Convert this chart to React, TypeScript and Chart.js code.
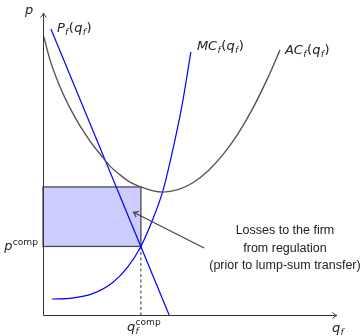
import { useEffect, useRef } from "react";
import { Chart, registerables } from "chart.js";

Chart.register(...registerables);

// Inverse demand P_f(q_f)
const demandQ = [0.27, 4.29];
const demandP = [9.47, 0];

// Marginal cost MC_f(q_f)
const mcQ = [0.31, 0.99, 1.67, 2.35, 2.86, 3.33, 3.71, 4.08, 4.39, 4.73, 5.03];
const mcP = [0.53, 0.56, 0.7, 1.06, 1.56, 2.27, 3.11, 4.12, 5.36, 6.95, 8.71];

// Average cost AC_f(q_f)
const acQ = [0.03, 0.24, 0.58, 0.92, 1.26, 1.6, 1.94, 2.28, 2.62, 2.96, 3.33, 3.71, 4.08, 4.59, 5.1, 5.61, 6.12, 6.63, 7.14, 7.65, 8.06];
const acP = [9.21, 8.44, 7.55, 6.85, 6.26, 5.76, 5.33, 4.93, 4.64, 4.4, 4.24, 4.12, 4.07, 4.15, 4.38, 4.77, 5.31, 6.0, 6.85, 7.86, 8.77];

// Regulated outcome: price = marginal cost on the demand curve
const qComp = 3.33;
const pComp = 2.27;
const acAtComp = 4.24;

// Annotation: arrow from the note into the loss rectangle
const noteArrowFrom = [5.48, 2.22];
const noteArrowTo = [3.06, 3.41];
const noteAnchor = [8.23, 2.78];
const noteLines = ["Losses to the firm", "from regulation", "(prior to lump-sum transfer)"];

const BLUE = "#0000ff";
const GREY = "#555555";
const AXIS = "#333333";
const TEXT = "#222222";
const MATH_FONT = '"DejaVu Sans"';
const NOTE_FONT = '"Liberation Sans", Arial, sans-serif';

type Seg = { t: string; k?: "sub" | "sup"; up?: boolean; stack?: boolean };

function drawMath(
  ctx: CanvasRenderingContext2D,
  x: number,
  y: number,
  segs: Seg[],
  size: number,
  align: "left" | "right" | "center" = "left"
) {
  const fontFor = (s: Seg) =>
    `${s.up ? "" : "italic "}${s.k ? size * 0.7 : size}px ${MATH_FONT}`;
  const widths = segs.map((s) => {
    ctx.font = fontFor(s);
    return ctx.measureText(s.t).width;
  });
  // total advance, where stacked segments share the start of the previous one
  let total = 0;
  let prevStart = 0;
  let cursor = 0;
  segs.forEach((s, i) => {
    const start = s.stack ? prevStart : cursor;
    prevStart = start;
    cursor = Math.max(cursor, start + widths[i] + (s.k ? 0.5 : 0.3));
    total = Math.max(total, cursor);
  });
  let x0 = x;
  if (align === "right") x0 = x - total;
  if (align === "center") x0 = x - total / 2;
  ctx.save();
  ctx.fillStyle = TEXT;
  ctx.textBaseline = "alphabetic";
  ctx.textAlign = "left";
  prevStart = 0;
  cursor = 0;
  segs.forEach((s, i) => {
    const start = s.stack ? prevStart : cursor;
    prevStart = start;
    ctx.font = fontFor(s);
    const dy = s.k === "sub" ? size * 0.25 : s.k === "sup" ? -size * 0.42 : 0;
    ctx.fillText(s.t, x0 + start, y + dy);
    cursor = Math.max(cursor, start + widths[i] + (s.k ? 0.5 : 0.3));
  });
  ctx.restore();
}

function arrowHead(
  ctx: CanvasRenderingContext2D,
  fx: number,
  fy: number,
  tx: number,
  ty: number,
  len = 4.5,
  spread = 3
) {
  const a = Math.atan2(ty - fy, tx - fx);
  const ux = Math.cos(a);
  const uy = Math.sin(a);
  ctx.beginPath();
  ctx.moveTo(tx - ux * len - uy * spread, ty - uy * len + ux * spread);
  ctx.quadraticCurveTo(tx - ux * len * 0.3, ty - uy * len * 0.3, tx, ty);
  ctx.quadraticCurveTo(
    tx - ux * len * 0.3,
    ty - uy * len * 0.3,
    tx - ux * len + uy * spread,
    ty - uy * len - ux * spread
  );
  ctx.stroke();
}

const economicsPlugin = {
  id: "economicsDecor",
  beforeDatasetsDraw(chart: any) {
    const { ctx, scales } = chart;
    const xs = scales.x;
    const ys = scales.y;
    const x0 = xs.getPixelForValue(0);
    const x1 = xs.getPixelForValue(qComp);
    const yTop = ys.getPixelForValue(acAtComp);
    const yBot = ys.getPixelForValue(pComp);
    ctx.save();
    ctx.fillStyle = "#ccccff";
    ctx.fillRect(x0, yTop, x1 - x0, yBot - yTop);
    ctx.strokeStyle = "#4a4a4a";
    ctx.lineWidth = 1.3;
    ctx.strokeRect(x0, yTop, x1 - x0, yBot - yTop);

    // dashed drop line at the regulated quantity
    ctx.strokeStyle = AXIS;
    ctx.lineWidth = 1;
    ctx.setLineDash([3, 2.5]);
    ctx.beginPath();
    ctx.moveTo(x1, yBot);
    ctx.lineTo(x1, ys.getPixelForValue(0));
    ctx.stroke();
    ctx.setLineDash([]);
    ctx.restore();
  },
  afterDatasetsDraw(chart: any) {
    const { ctx, scales, chartArea } = chart;
    const xs = scales.x;
    const ys = scales.y;
    const ox = Math.round(xs.getPixelForValue(0)) + 0.5;
    const oy = Math.round(ys.getPixelForValue(0)) + 0.5;
    ctx.save();
    ctx.strokeStyle = AXIS;
    ctx.lineWidth = 1;
    // axes with arrow tips
    ctx.beginPath();
    ctx.moveTo(ox, oy);
    ctx.lineTo(ox, chartArea.top);
    ctx.moveTo(ox, oy);
    ctx.lineTo(chartArea.right, oy);
    ctx.stroke();
    arrowHead(ctx, ox, oy, ox, chartArea.top);
    arrowHead(ctx, ox, oy, chartArea.right, oy);

    // note arrow
    const ax = xs.getPixelForValue(noteArrowFrom[0]);
    const ay = ys.getPixelForValue(noteArrowFrom[1]);
    const bx = xs.getPixelForValue(noteArrowTo[0]);
    const by = ys.getPixelForValue(noteArrowTo[1]);
    ctx.strokeStyle = "#444444";
    ctx.lineWidth = 1.2;
    ctx.beginPath();
    ctx.moveTo(ax, ay);
    ctx.lineTo(bx, by);
    ctx.stroke();
    arrowHead(ctx, ax, ay, bx, by, 5, 3.2);

    // note text
    ctx.fillStyle = TEXT;
    ctx.font = `12.5px ${NOTE_FONT}`;
    ctx.textAlign = "center";
    ctx.textBaseline = "middle";
    const nx = xs.getPixelForValue(noteAnchor[0]);
    const ny = ys.getPixelForValue(noteAnchor[1]);
    noteLines.forEach((line, i) => ctx.fillText(line, nx, ny + i * 17.5));
    ctx.restore();

    // curve and axis labels
    const size = 13;
    drawMath(ctx, ox - 10, chartArea.top + 1, [{ t: "p" }], size, "right");
    drawMath(
      ctx,
      xs.getPixelForValue(demandQ[0]) + 6,
      ys.getPixelForValue(demandP[0]) + 3,
      [{ t: "P" }, { t: "f", k: "sub" }, { t: "(", up: true }, { t: "q" }, { t: "f", k: "sub" }, { t: ")", up: true }],
      size
    );
    drawMath(
      ctx,
      xs.getPixelForValue(mcQ[mcQ.length - 1]) + 6,
      ys.getPixelForValue(mcP[mcP.length - 1]) - 2,
      [{ t: "MC" }, { t: "f", k: "sub" }, { t: "(", up: true }, { t: "q" }, { t: "f", k: "sub" }, { t: ")", up: true }],
      size
    );
    drawMath(
      ctx,
      xs.getPixelForValue(acQ[acQ.length - 1]) + 5,
      ys.getPixelForValue(acP[acP.length - 1]) + 4,
      [{ t: "AC" }, { t: "f", k: "sub" }, { t: "(", up: true }, { t: "q" }, { t: "f", k: "sub" }, { t: ")", up: true }],
      size
    );
    drawMath(
      ctx,
      ox - 5,
      ys.getPixelForValue(pComp) + 4,
      [{ t: "p" }, { t: "comp", k: "sup", up: true }],
      size,
      "right"
    );
    drawMath(
      ctx,
      xs.getPixelForValue(qComp) - 14,
      oy + 15,
      [{ t: "q" }, { t: "f", k: "sub" }, { t: "comp", k: "sup", up: true, stack: true }],
      size
    );
    drawMath(
      ctx,
      chartArea.right - 5,
      oy + 16,
      [{ t: "q" }, { t: "f", k: "sub" }],
      size
    );
  },
};

export default function App() {
  const ref = useRef<HTMLCanvasElement | null>(null);

  useEffect(() => {
    if (!ref.current) return;
    const pts = (qs: number[], ps: number[]) => qs.map((q, i) => ({ x: q, y: ps[i] }));
    const chart = new Chart(ref.current, {
      type: "scatter",
      data: {
        datasets: [
          {
            label: "AC",
            data: pts(acQ, acP),
            showLine: true,
            borderColor: GREY,
            borderWidth: 1.4,
            pointRadius: 0,
            cubicInterpolationMode: "monotone",
            clip: false,
          },
          {
            label: "MC",
            data: pts(mcQ, mcP),
            showLine: true,
            borderColor: BLUE,
            borderWidth: 1.2,
            pointRadius: 0,
            cubicInterpolationMode: "monotone",
            clip: false,
          },
          {
            label: "P",
            data: pts(demandQ, demandP),
            showLine: true,
            borderColor: BLUE,
            borderWidth: 1.2,
            pointRadius: 0,
            clip: false,
          },
        ],
      },
      options: {
        animation: false,
        responsive: false,
        devicePixelRatio: 1,
        layout: { padding: { left: 43, right: 25, top: 13, bottom: 21 } },
        scales: {
          x: { type: "linear", min: 0, max: 10, display: false },
          y: { type: "linear", min: 0, max: 10, display: false },
        },
        plugins: {
          legend: { display: false },
          tooltip: { enabled: false },
        },
      } as any,
      plugins: [economicsPlugin],
    });
    return () => chart.destroy();
  }, []);

  return (
    <div style={{ position: "absolute", left: 0, top: 0, width: 362, height: 336, background: "#fff" }}>
      <canvas ref={ref} width={362} height={336} />
    </div>
  );
}
